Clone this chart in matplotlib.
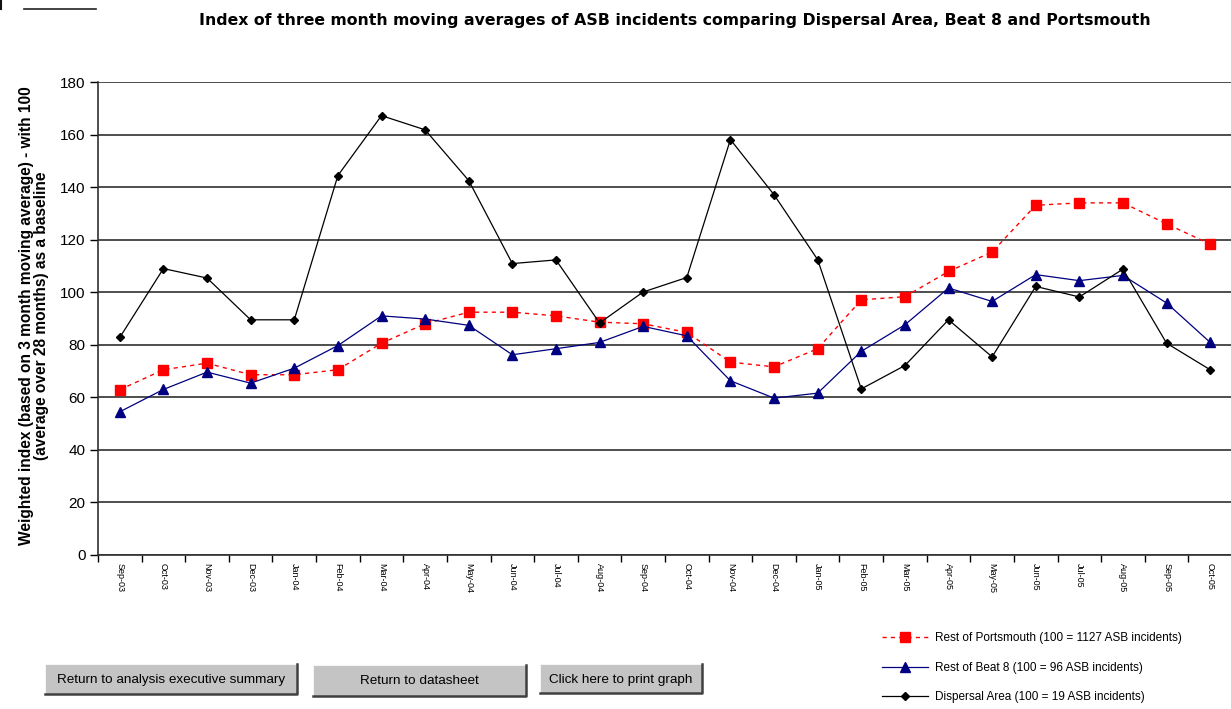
import matplotlib
matplotlib.use("Agg")
import matplotlib.pyplot as plt
from matplotlib.lines import Line2D
from matplotlib.patches import Rectangle

plt.rcParams['font.family'] = ['Liberation Sans', 'DejaVu Sans']

months = ["Sep-03", "Oct-03", "Nov-03", "Dec-03", "Jan-04", "Feb-04", "Mar-04",
          "Apr-04", "May-04", "Jun-04", "Jul-04", "Aug-04", "Sep-04", "Oct-04",
          "Nov-04", "Dec-04", "Jan-05", "Feb-05", "Mar-05", "Apr-05", "May-05",
          "Jun-05", "Jul-05", "Aug-05", "Sep-05", "Oct-05"]

portsmouth = [62.9, 70.5, 73.0, 68.6, 68.6, 70.5, 80.6, 88.0, 92.4, 92.4, 91.0,
              88.6, 88.0, 84.7, 73.4, 71.6, 78.5, 97.1, 98.3, 107.9, 115.3,
              133.1, 134.0, 134.0, 126.0, 118.3]
beat8 = [54.5, 63.0, 69.6, 65.4, 71.1, 79.7, 91.0, 89.8, 87.4, 76.2, 78.5, 80.9,
         87.0, 83.4, 66.3, 59.7, 61.6, 77.5, 87.6, 101.6, 96.5, 106.7, 104.4,
         106.4, 95.9, 80.9]
dispersal = [82.8, 109.0, 105.4, 89.5, 89.5, 144.4, 167.2, 161.8, 142.5, 110.9,
             112.3, 88.3, 100.1, 105.6, 158.1, 137.1, 112.4, 63.2, 72.1, 89.5,
             75.4, 102.2, 98.2, 108.8, 80.6, 70.5]

labels = ["Rest of Portsmouth (100 = 1127 ASB incidents)",
          "Rest of Beat 8 (100 = 96 ASB incidents)",
          "Dispersal Area (100 = 19 ASB incidents)"]
title = "Index of three month moving averages of ASB incidents comparing Dispersal Area, Beat 8 and Portsmouth"
ylabel = "Weighted index (based on 3 month moving average) - with 100\n(average over 28 months) as a baseline"
buttons = ["Return to analysis executive summary", "Return to datasheet", "Click here to print graph"]

W, H = 1231, 709
fig = plt.figure(figsize=(W / 100, H / 100), dpi=100)
fig.patch.set_facecolor('white')

def fx(x):
    return x / W

def fy(y):
    return 1 - y / H

ax = fig.add_axes([fx(98), fy(555), fx(1232) - fx(98), fy(82) - fy(555)])
x = list(range(len(months)))

l1, = ax.plot(x, portsmouth, color='#ff0000', lw=1.0, linestyle=(0, (3, 3)),
              marker='s', markersize=6.5, markerfacecolor='#ff0000',
              markeredgecolor='#ff0000', zorder=3)
l2, = ax.plot(x, beat8, color='#000080', lw=0.9, marker='^', markersize=7,
              markerfacecolor='#000080', markeredgecolor='#000080', zorder=4)
l3, = ax.plot(x, dispersal, color='#000000', lw=0.9, marker='D', markersize=4.5,
              markerfacecolor='#000000', markeredgecolor='#000000', zorder=5)

ax.set_xlim(-0.5, len(months) - 0.5)
ax.set_ylim(0, 180)
ax.set_yticks(range(0, 181, 20))
ax.tick_params(axis='y', labelsize=11, length=6, width=1, direction='out', pad=3)
ax.set_xticks(x)
ax.set_xticklabels(months, rotation=270, fontsize=6.5)
ax.tick_params(axis='x', which='major', length=0, pad=6)
ax.set_xticks([i - 0.5 for i in range(len(months) + 1)], minor=True)
ax.tick_params(axis='x', which='minor', length=5, width=1, direction='out')
ax.grid(axis='y', color='#303030', lw=1.2, zorder=0)
ax.set_axisbelow(True)
for s in ['top', 'right']:
    ax.spines[s].set_visible(False)
for s in ['left', 'bottom']:
    ax.spines[s].set_color('#303030')
    ax.spines[s].set_linewidth(1.2)

fig.text(fx(34), fy(316), ylabel, fontsize=11.2, fontweight='bold', rotation=90,
         ha='center', va='center', linespacing=1.0, multialignment='center')

fig.text(fx(675), fy(20), title, fontsize=11.3, fontweight='bold', ha='center',
         va='center', family=['DejaVu Sans'])

leg = fig.legend([l1, l2, l3], labels, loc='upper left',
                 bbox_to_anchor=(fx(882), fy(632)), frameon=False, fontsize=8.5,
                 handlelength=3.9, labelspacing=1.5, handletextpad=0.6,
                 borderaxespad=0, borderpad=0)

# buttons
btns = [(45, 664, 297, 694), (313, 665, 526, 696), (540, 664, 702, 693)]
for (x0, y0, x1, y1), txt in zip(btns, buttons):
    fig.add_artist(Rectangle((fx(x0), fy(y1)), fx(x1) - fx(x0), fy(y0) - fy(y1),
                             transform=fig.transFigure, facecolor='#c4c4c4',
                             edgecolor='none'))
    fig.add_artist(Line2D([fx(x0), fx(x0), fx(x1)], [fy(y1), fy(y0), fy(y0)],
                          transform=fig.transFigure, color='white', lw=1.2))
    fig.add_artist(Line2D([fx(x0), fx(x1), fx(x1)], [fy(y1), fy(y1), fy(y0)],
                          transform=fig.transFigure, color='#404040', lw=1.8))
    fig.text(fx((x0 + x1) / 2), fy((y0 + y1) / 2 + 1), txt, fontsize=9.7,
             ha='center', va='center', color='black')

# small artifacts at top-left
fig.add_artist(Line2D([fx(24), fx(96)], [fy(8.5), fy(8.5)], transform=fig.transFigure,
                      color='#222222', lw=1.2))
fig.add_artist(Line2D([fx(1), fx(1)], [fy(0), fy(9)], transform=fig.transFigure,
                      color='#111111', lw=1.5))

fig.savefig('out.png', dpi=100)
